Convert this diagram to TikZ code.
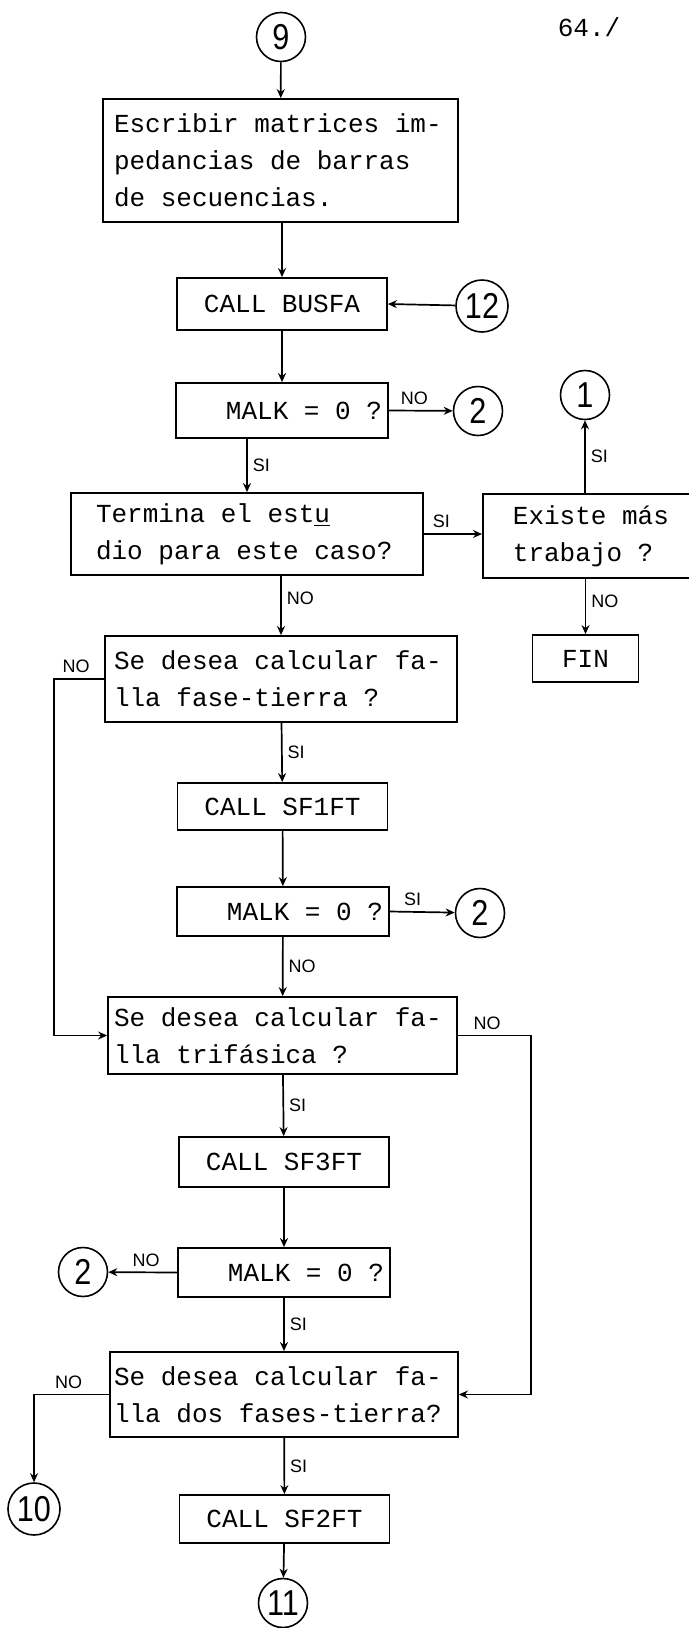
\documentclass[tikz,border=0pt]{standalone}
\usepackage{fontspec}
\newfontfamily\twfont{Liberation Mono}
\newfontfamily\lbfont{Liberation Sans}
\newfontfamily\cnfont[FakeStretch=0.85]{Liberation Sans}
\newcommand\boxfont{\fontsize{13}{18.5}\selectfont\twfont}
\usetikzlibrary{arrows.meta,positioning}
\tikzset{
  >={Stealth[length=4.5pt,width=4pt]},
  box/.style={draw,line width=0.9pt,inner ysep=2pt,font=\boxfont,execute at begin node={\spaceskip=7.8pt\relax}},
  tbox/.style={box,align=left},
  cbox/.style={box,align=center,minimum width=105pt,minimum height=24.5pt},
  qbox/.style={box,align=right,text width=100pt,inner xsep=3pt,minimum height=24.5pt},
  con/.style={circle,draw,line width=0.8pt,inner sep=0pt,minimum size=24.5pt,font=\fontsize{18}{18}\selectfont\cnfont},
  lab/.style={font=\fontsize{9}{9}\selectfont\lbfont,inner sep=2.5pt},
  arr/.style={->,line width=0.85pt},
}
\begin{document}
\begin{tikzpicture}[x=0.5pt,y=-0.5pt]
\clip (0,0) rectangle (689,1628);
\node[font=\fontsize{13}{13}\selectfont\twfont] (pg) at (589,27) {64./};
% main column
\node[con] (c9) at (281,37) {9};
\node[tbox,text width=166.5pt,inner xsep=5.5pt,minimum height=61.5pt] (escr) at (280.5,160.5) {Escribir matrices im-\\pedancias de barras\\de secuencias.};
\node[cbox,minimum height=26pt] (busfa) at (282,304) {CALL BUSFA};
\node[con,minimum size=26pt] (c12) at (482,306) {12};
\node[qbox,minimum height=27.5pt] (malkA) at (282,410.5) {MALK = 0 ?};
\node[con] (c2a) at (478,411) {2};
\node[tbox,text width=151pt,inner xsep=12.5pt,minimum height=41pt] (term) at (247,534) {Termina el est\underline{u}\\dio para este caso?};
\node[tbox,anchor=west,text width=85pt,inner xsep=15pt,minimum height=42pt] (exis) at (482,536) {Existe más\\trabajo ?};
\node[con] (c1) at (585,395) {1};
\node[cbox,minimum width=53pt,minimum height=23.5pt] (fin) at (585.5,658.5) {FIN};
\node[tbox,text width=167pt,inner xsep=4.5pt,minimum height=43pt] (fft) at (281,679) {Se desea calcular fa-\\lla fase-tierra ?};
\node[cbox,minimum height=23.5pt] (sf1) at (282.5,806.5) {CALL SF1FT};
\node[qbox] (malkB) at (283,911.5) {MALK = 0 ?};
\node[con] (c2b) at (480,913) {2};
\node[tbox,text width=168.5pt,inner xsep=3pt,minimum height=38.5pt] (tri) at (282.5,1035.5) {Se desea calcular fa-\\lla trifásica ?};
\node[cbox,minimum height=25pt] (sf3) at (284,1162) {CALL SF3FT};
\node[qbox] (malkC) at (284,1272.5) {MALK = 0 ?};
\node[con] (c2c) at (83,1272) {2};
\node[tbox,text width=170pt,inner xsep=2pt,minimum height=42.5pt] (dos) at (284,1394.5) {Se desea calcular fa-\\lla dos fases-tierra?};
\node[con,minimum size=26pt] (c10) at (34,1509) {10};
\node[cbox,minimum height=24pt] (sf2) at (284.5,1519) {CALL SF2FT};
\node[con] (c11) at (283,1603) {11};
% connectors
\draw[arr] (c9) -- (escr);
\draw[arr] (escr.south -| busfa.north) -- (busfa.north);
\draw[arr] (c12) -- (busfa.east);
\draw[arr] (busfa) -- (malkA);
\draw[arr] (malkA.east) -- node[lab,above,pos=0.4] (l1) {NO} (c2a);
\draw[arr] (malkA.south -| term.north) -- node[lab,right] (l2) {SI} (term.north);
\draw[arr] (term.east) -- node[lab,above,pos=0.3] (l3) {SI} (term.east -| exis.west);
\draw[arr] (exis.north -| c1.south) -- node[lab,right] (l4) {SI} (c1.south);
\draw[arr] (exis.south -| fin.north) -- node[lab,right,pos=0.4] (l5) {NO} (fin.north);
\draw[arr] (term.south -| fft.north) -- node[lab,right,pos=0.38] (l6) {NO} (fft.north);
\draw[arr] (fft.west) -- node[lab,above,pos=0.56] (l7) {NO} ++(-50,0) |- (tri.west);
\draw[arr] (fft) -- node[lab,right] (l8) {SI} (sf1);
\draw[arr] (sf1) -- (malkB);
\draw[arr] (malkB.east) -- node[lab,above,pos=0.35] (l9) {SI} (c2b);
\draw[arr] (malkB) -- node[lab,right] (l10) {NO} (tri);
\draw[arr] (tri.east) -- node[lab,above,pos=0.4] (l11) {NO} ++(73,0) |- (dos.east);
\draw[arr] (tri) -- node[lab,right] (l12) {SI} (sf3);
\draw[arr] (sf3) -- (malkC);
\draw[arr] (malkC.west) -- node[lab,above,pos=0.45] (l13) {NO} (c2c);
\draw[arr] (malkC) -- node[lab,right] (l14) {SI} (dos);
\draw[arr] (dos.west) -| node[lab,above,pos=0.27] (l15) {NO} (c10.north);
\draw[arr] (dos) -- node[lab,right] (l16) {SI} (sf2);
\draw[arr] (sf2) -- (c11);
\end{tikzpicture}
\end{document}
